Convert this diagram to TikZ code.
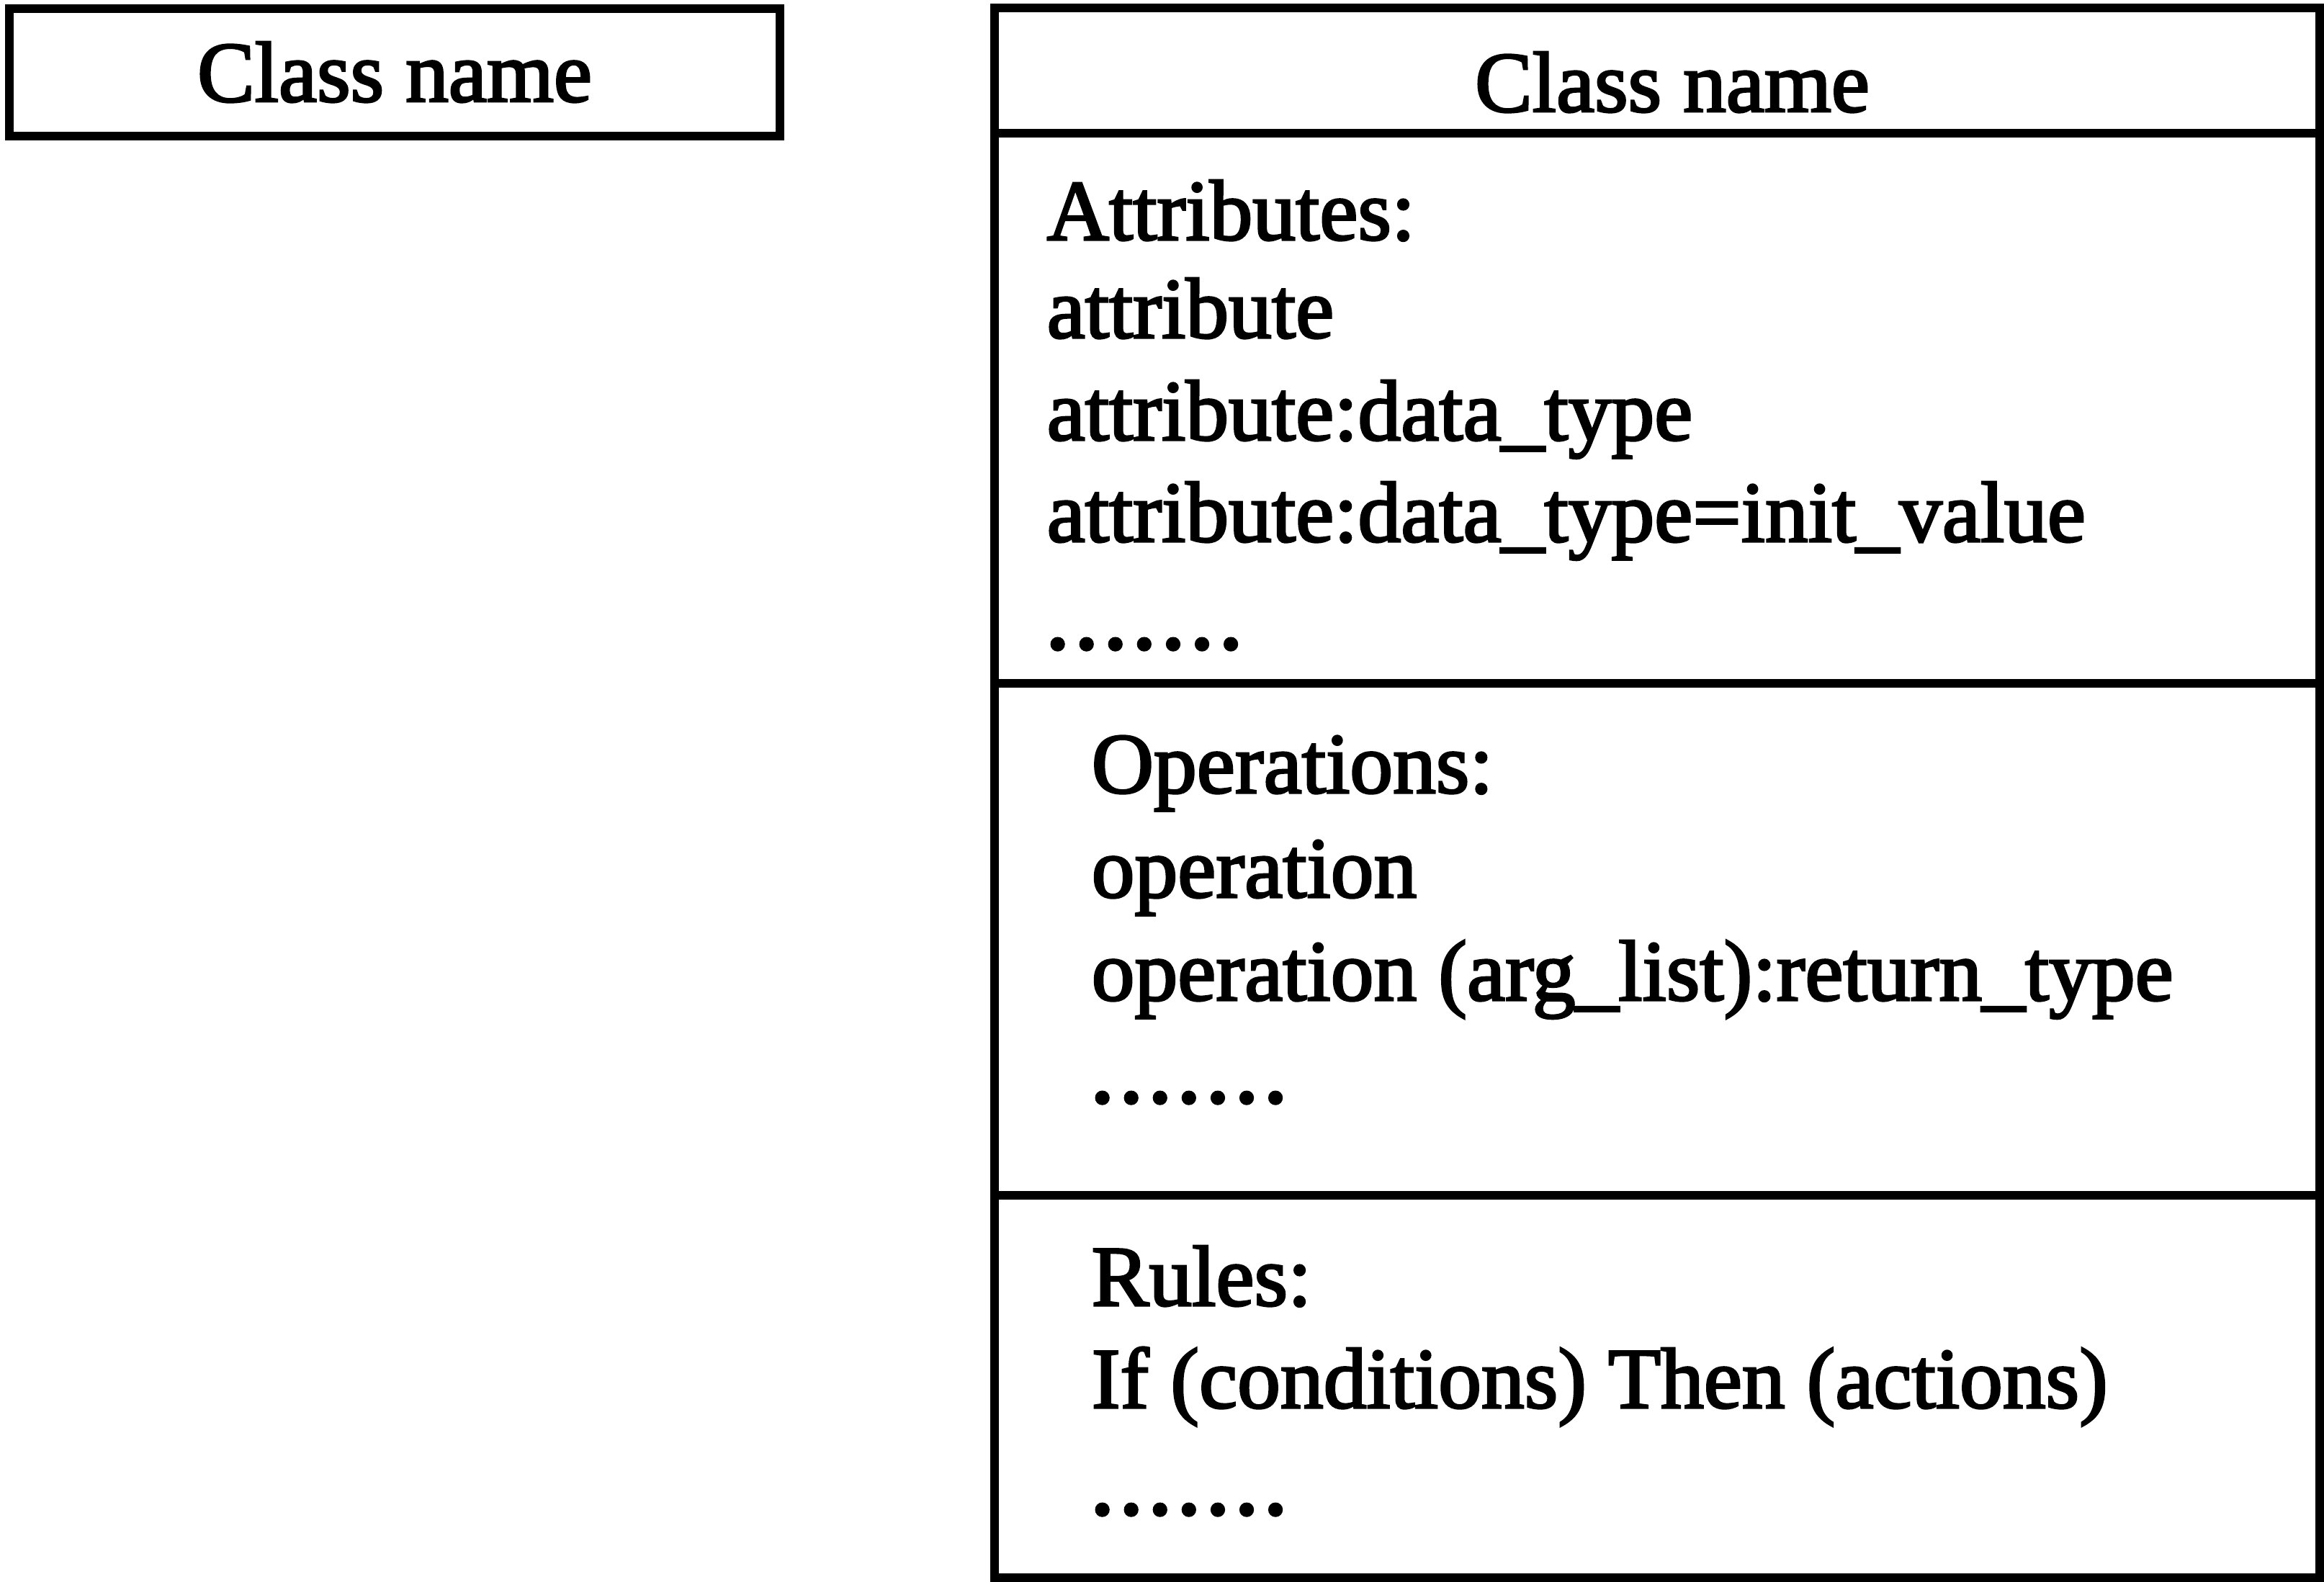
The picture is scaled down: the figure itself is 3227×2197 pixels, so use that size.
\documentclass[tikz,border=0pt]{standalone}
\usepackage{fontspec}
\setmainfont{Liberation Serif}[FakeBold=2.5]
\newcommand{\dotrow}{{\addfontfeature{FakeBold=5}.\kern2.9pt.\kern2.9pt.\kern2.9pt.\kern2.9pt.\kern2.9pt.\kern2.9pt.}}
\begin{document}
\begin{tikzpicture}[x=0.01cm,y=-0.01cm,
  outline/.style={draw=black, line width=3.4pt, line join=miter},
  umltext/.style={inner sep=0pt, font=\fontsize{34}{41}\selectfont},
  linetext/.style={umltext, anchor=base west},
  titletext/.style={umltext, anchor=base}]
\useasboundingbox (0,0) rectangle (3227,2197);

% simple class: name only
\draw[outline] (13,12) rectangle (1083,189);
\node[titletext] (simplename) at (548,141) {Class name};

% full class: name, attributes, operations, rules
\draw[outline] (1381,11) rectangle (3221,185);
\draw[outline] (1381,185) rectangle (3221,949);
\draw[outline] (1381,949) rectangle (3221,1660);
\draw[outline] (1381,1660) rectangle (3221,2191);

\node[titletext] (fullname) at (2322,155) {Class name};

\node[linetext] (attrhead) at (1453,333) {Attributes:};
\node[linetext] (attr1) at (1453,469) {attribute};
\node[linetext] (attr2) at (1453,611) {attribute:data\_type};
\node[linetext] (attr3) at (1453,752) {attribute:data\_type=init\_value};
\node[linetext] (attrdots) at (1453,900) {\dotrow};

\node[linetext] (ophead) at (1515,1101) {Operations:};
\node[linetext] (op1) at (1515,1246) {operation};
\node[linetext] (op2) at (1515,1389) {operation (arg\_list):return\_type};
\node[linetext] (opdots) at (1515,1530) {\dotrow};

\node[linetext] (rulehead) at (1515,1813) {Rules:};
\node[linetext] (rule1) at (1515,1955) {If (conditions) Then (actions)};
\node[linetext] (ruledots) at (1515,2102) {\dotrow};
\end{tikzpicture}
\end{document}
